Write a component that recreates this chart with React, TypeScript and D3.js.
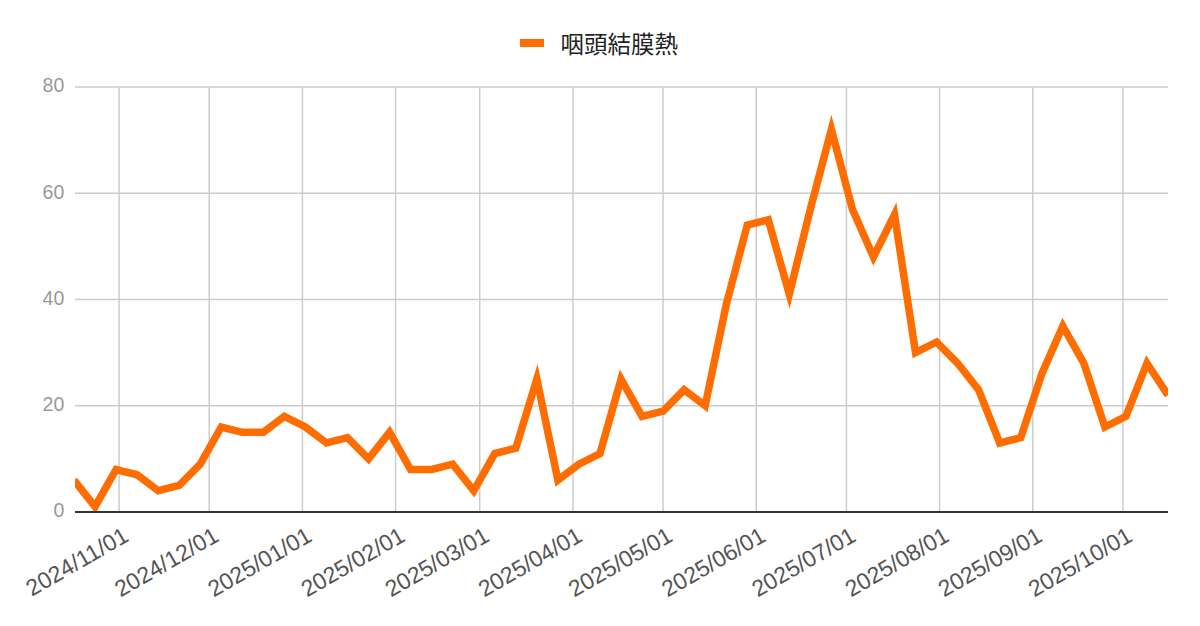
import React from "react";
import * as d3 from "d3";

const SERIES_NAME = "咽頭結膜熱";

const DATES = [
  "2024-10-17", "2024-10-24", "2024-10-31", "2024-11-07", "2024-11-14", "2024-11-21", "2024-11-28",
  "2024-12-05", "2024-12-12", "2024-12-19", "2024-12-26",
  "2025-01-02", "2025-01-09", "2025-01-16", "2025-01-23", "2025-01-30",
  "2025-02-06", "2025-02-13", "2025-02-20", "2025-02-27",
  "2025-03-06", "2025-03-13", "2025-03-20", "2025-03-27",
  "2025-04-03", "2025-04-10", "2025-04-17", "2025-04-24",
  "2025-05-01", "2025-05-08", "2025-05-15", "2025-05-22", "2025-05-29",
  "2025-06-05", "2025-06-12", "2025-06-19", "2025-06-26",
  "2025-07-03", "2025-07-10", "2025-07-17", "2025-07-24", "2025-07-31",
  "2025-08-07", "2025-08-14", "2025-08-21", "2025-08-28",
  "2025-09-04", "2025-09-11", "2025-09-18", "2025-09-25",
  "2025-10-02", "2025-10-09", "2025-10-16",
];

const VALUES = [
  6, 1, 8, 7, 4, 5, 9,
  16, 15, 15, 18,
  16, 13, 14, 10, 15,
  8, 8, 9, 4,
  11, 12, 25, 6,
  9, 11, 25, 18,
  19, 23, 20, 39, 54,
  55, 41, 57, 72,
  57, 48, 56, 30, 32,
  28, 23, 13, 14,
  26, 35, 28, 16,
  18, 28, 22,
];

const Y_TICKS = [0, 20, 40, 60, 80];

const W = 1200;
const H = 626;
const PLOT_LEFT = 75;
const PLOT_RIGHT = 1168;
const Y_TOP = 87;
const Y_BOTTOM = 512;
const LINE_COLOR = "#ff6d00";

export default function App() {
  const parse = d3.timeParse("%Y-%m-%d");
  const dates = DATES.map((d) => parse(d) as Date);
  const data = dates.map((d, i) => ({ date: d, value: VALUES[i] }));

  const x = d3
    .scaleTime()
    .domain([dates[0], dates[dates.length - 1]])
    .range([74, 1168]);
  const y = d3.scaleLinear().domain([0, 80]).range([Y_BOTTOM, Y_TOP]);

  const monthTicks = d3.timeMonth.range(
    d3.timeMonth.ceil(dates[0]),
    d3.timeDay.offset(dates[dates.length - 1], 1)
  );
  const fmt = d3.timeFormat("%Y/%m/%d");

  const line = d3
    .line<{ date: Date; value: number }>()
    .x((d) => x(d.date))
    .y((d) => y(d.value));

  const font = "'Liberation Sans', Arial, sans-serif";

  return (
    <svg
      width={W}
      height={H}
      style={{ position: "absolute", left: 0, top: 0, background: "#fff" }}
    >
      <defs>
        <clipPath id="plotclip">
          <rect x={PLOT_LEFT} y={0} width={PLOT_RIGHT - PLOT_LEFT} height={H} />
        </clipPath>
      </defs>
      <rect x={0} y={0} width={W} height={H} fill="#fff" />

      {/* horizontal gridlines */}
      {Y_TICKS.filter((t) => t !== 0).map((t) => (
        <line
          key={"h" + t}
          x1={PLOT_LEFT}
          x2={PLOT_RIGHT}
          y1={y(t)}
          y2={y(t)}
          stroke="#cccccc"
          strokeWidth={1.5}
        />
      ))}
      {/* vertical gridlines */}
      {monthTicks.map((t) => (
        <line
          key={"v" + t.getTime()}
          x1={x(t)}
          x2={x(t)}
          y1={Y_TOP}
          y2={Y_BOTTOM}
          stroke="#cccccc"
          strokeWidth={1.5}
        />
      ))}

      {/* y labels */}
      {Y_TICKS.map((t) => (
        <text
          key={"yl" + t}
          x={64.3}
          y={y(t) + 5.3}
          textAnchor="end"
          fontFamily={font}
          fontSize={19.5}
          fill="#999999"
        >
          {t}
        </text>
      ))}

      {/* x labels */}
      {monthTicks.map((t) => {
        const ax = x(t) + 11;
        const ay = 540;
        return (
          <text
            key={"xl" + t.getTime()}
            x={ax}
            y={ay}
            textAnchor="end"
            transform={`rotate(-30 ${ax} ${ay})`}
            fontFamily={font}
            fontSize={23}
            fill="#555555"
          >
            {fmt(t)}
          </text>
        );
      })}

      {/* data line */}
      <g clipPath="url(#plotclip)">
        <path
          d={line(data) || ""}
          fill="none"
          stroke={LINE_COLOR}
          strokeWidth={7.5}
          strokeLinejoin="miter"
          strokeMiterlimit={10}
        />
      </g>

      {/* baseline */}
      <line
        x1={PLOT_LEFT}
        x2={PLOT_RIGHT}
        y1={y(0)}
        y2={y(0)}
        stroke="#333333"
        strokeWidth={2}
      />

      {/* legend */}
      <rect x={520} y={39} width={24} height={8} fill={LINE_COLOR} />
      <text
        x={560.5}
        y={43}
        dominantBaseline="central"
        fontFamily="'Noto Sans CJK JP', 'Noto Sans CJK SC', sans-serif"
        fontSize={23.5}
        fill="#222222"
      >
        {SERIES_NAME}
      </text>
    </svg>
  );
}
